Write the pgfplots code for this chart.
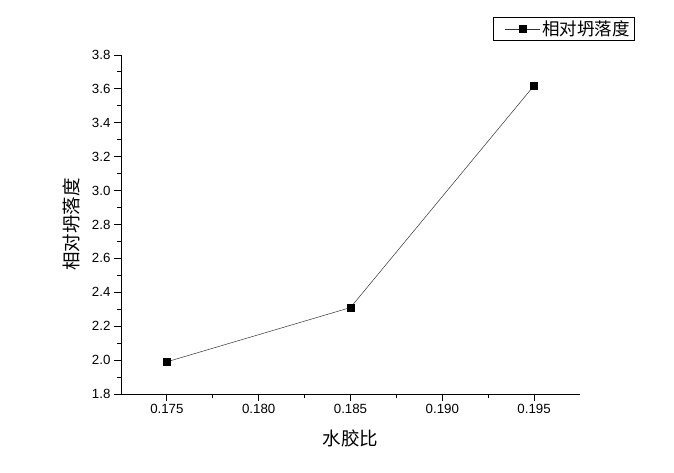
\documentclass[border=0pt]{standalone}
\usepackage{fontspec}
\setmainfont{Liberation Sans}
\newfontfamily\cjk{Noto Sans CJK SC}
\usepackage{pgfplots}
\pgfplotsset{compat=1.18}

\begin{document}
\begin{tikzpicture}[x=1pt,y=1pt]
\path[use as bounding box] (0,0) rectangle (674,473);
\begin{axis}[
    at={(121pt,79pt)}, anchor=south west,
    scale only axis,
    width=459pt, height=339pt,
    xmin=0.1725, xmax=0.1975,
    ymin=1.8, ymax=3.8,
    axis x line*=bottom, axis y line*=left,
    axis line style={line width=0.9pt},
    xtick={0.175,0.180,0.185,0.190,0.195},
    ytick={1.8,2.0,...,3.8},
    minor x tick num=1, minor y tick num=1,
    tick align=outside,
    major tick length=7pt, minor tick length=4pt,
    every tick/.style={line width=0.9pt, black},
    xticklabel style={/pgf/number format/.cd, fixed, fixed zerofill, precision=3},
    yticklabel style={/pgf/number format/.cd, fixed, fixed zerofill, precision=1},
    scaled x ticks=false,
    /pgf/number format/assume math mode=true,
    tick label style={font=\fontsize{13.3}{15}\selectfont},
    xlabel={\cjk 水胶比},
    ylabel={\cjk 相对坍落度},
    label style={font=\fontsize{18.5}{20}\selectfont},
    xlabel style={yshift=-9pt},
    ylabel style={yshift=5pt},
    legend style={at={(1.12,1.112)}, anchor=north east, draw=black,
        line width=0.6pt, font=\fontsize{17.5}{19}\cjk, inner xsep=3pt, inner ysep=1.5pt,
        row sep=0pt},
    legend cell align=left,
    legend image code/.code={
        \draw[opacity=0] (-8pt,0pt) -- (0pt,0pt);
        \draw[line width=0.5pt] (0pt,0pt) -- (35pt,0pt);
        \draw[fill=black] plot[mark=square*, mark size=3.6pt, mark options={fill=black,draw=black}] coordinates {(17.5pt,0pt)};
    },
]
\addplot[color=black!80, line width=0.5pt, mark=square*, mark size=3.6pt,
    mark options={fill=black, draw=black, solid}] coordinates {
    (0.175,1.99) (0.185,2.31) (0.195,3.62)
};
\addlegendentry{相对坍落度}
\end{axis}
\end{tikzpicture}
\end{document}
